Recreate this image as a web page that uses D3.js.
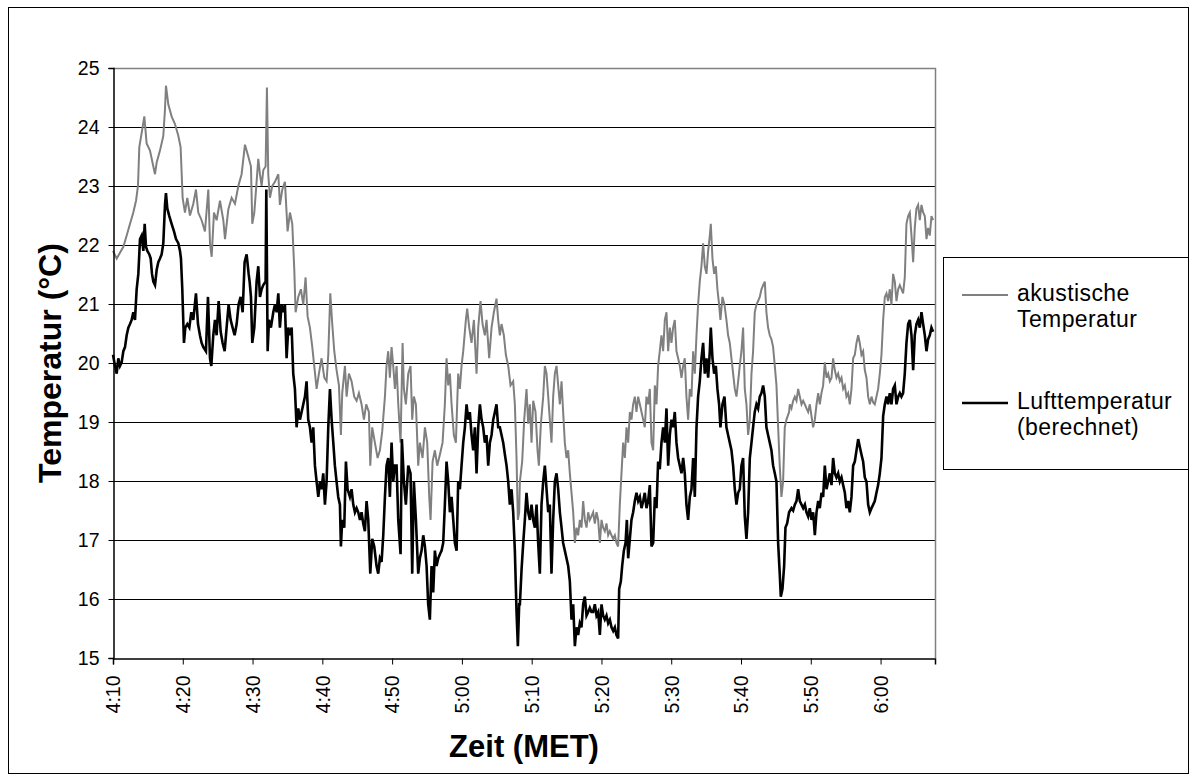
<!DOCTYPE html>
<html>
<head>
<meta charset="utf-8">
<script src="https://cdn.jsdelivr.net/npm/d3@7/dist/d3.min.js"></script>
<style>
  body { margin: 0; background: #fff; }
  svg { display: block; font-family: "Liberation Sans", Arial, sans-serif; }
</style>
</head>
<body>
<div id="chart"></div>
<script>
// minutes after 4:10 MET, temperature in °C
var akustisch = [
  [0.00,21.9],[0.53,21.77],[1.00,21.87],[1.48,21.97],[1.96,22.16],[2.44,22.36],[2.91,22.55],[3.30,22.75],[3.58,23.0],[3.77,23.66],
  [4.11,23.9],[4.49,24.18],[4.82,23.72],[5.30,23.6],[5.78,23.33],[6.02,23.2],[6.26,23.4],[6.73,23.6],[7.21,23.85],[7.45,24.3],
  [7.59,24.7],[7.93,24.38],[8.40,24.18],[8.88,24.05],[9.36,23.85],[9.69,23.66],[9.98,22.8],[10.31,22.55],[10.65,22.8],[11.03,22.5],
  [11.51,22.7],[11.89,22.94],[12.22,22.55],[12.70,22.42],[13.18,22.23],[13.66,22.94],[13.90,22.03],[14.14,21.8],[14.47,22.55],[14.85,22.42],
  [15.33,22.75],[15.81,22.42],[16.05,22.1],[16.52,22.6],[17.00,22.8],[17.48,22.7],[17.96,23.0],[18.43,23.2],[18.91,23.7],[19.39,23.5],
  [19.77,23.33],[19.96,22.36],[20.25,22.55],[20.58,23.07],[20.82,23.46],[21.06,23.2],[21.30,23.0],[21.54,23.27],[21.87,23.33],[22.06,24.67],
  [22.25,23.2],[22.49,22.8],[22.83,23.0],[23.21,23.07],[23.69,23.2],[23.92,22.68],[24.26,22.94],[24.64,23.07],[25.02,22.23],[25.36,22.55],
  [25.69,22.36],[25.98,21.58],[26.17,20.86],[26.55,21.12],[26.93,21.25],[27.27,20.99],[27.60,21.45],[27.89,20.79],[28.22,20.6],[28.56,20.27],
  [28.84,19.95],[29.18,19.56],[29.51,19.82],[29.89,20.08],[30.28,19.75],[30.61,19.69],[30.85,20.14],[31.14,21.18],[31.42,20.66],[31.71,20.2],
  [32.04,19.88],[32.38,19.62],[32.66,18.78],[32.85,19.49],[33.24,19.95],[33.48,19.43],[33.81,19.82],[34.19,19.69],[34.57,19.43],[34.91,19.36],
  [35.24,19.49],[35.62,19.3],[35.96,19.04],[36.29,19.3],[36.67,19.17],[36.87,18.26],[37.15,18.91],[37.53,18.65],[37.92,18.39],[38.25,18.52],
  [38.58,18.84],[38.97,19.43],[39.20,19.95],[39.44,20.2],[39.68,19.75],[39.92,20.27],[40.16,19.95],[40.40,19.56],[40.64,19.95],[40.88,19.3],
  [41.21,18.65],[41.50,20.34],[41.69,19.56],[41.97,19.3],[42.31,19.82],[42.64,19.95],[42.88,19.04],[43.12,19.43],[43.41,19.3],[43.74,18.26],
  [43.98,18.65],[44.36,18.39],[44.70,18.91],[45.03,18.65],[45.32,17.73],[45.51,17.34],[45.80,18.33],[46.13,18.52],[46.46,18.26],[46.85,18.45],
  [47.23,18.65],[47.56,19.3],[47.80,20.08],[48.04,19.62],[48.28,19.82],[48.52,19.3],[48.85,18.78],[49.14,18.65],[49.47,19.82],[49.71,19.56],
  [49.95,19.95],[50.19,20.2],[50.57,20.73],[50.76,20.92],[51.05,20.6],[51.38,20.34],[51.72,20.73],[52.10,19.82],[52.34,20.6],[52.67,21.05],
  [52.96,20.66],[53.29,20.47],[53.53,20.73],[53.91,20.08],[54.25,20.6],[54.58,20.86],[54.96,21.09],[55.20,20.73],[55.44,20.47],[55.68,20.66],
  [56.01,20.47],[56.30,20.14],[56.64,19.95],[56.97,19.62],[57.35,19.69],[57.59,19.3],[57.83,18.39],[58.02,17.34],[58.21,17.47],[58.31,17.99],
  [58.64,18.33],[58.93,19.04],[59.26,19.56],[59.50,18.97],[59.74,19.3],[59.98,18.65],[60.22,19.36],[60.55,19.17],[60.84,18.52],[61.03,18.26],
  [61.32,18.97],[61.65,19.43],[61.89,19.95],[62.13,19.82],[62.37,19.43],[62.60,19.04],[62.84,18.65],[63.08,19.43],[63.32,19.82],[63.56,19.95],
  [63.80,19.62],[64.04,19.3],[64.28,19.69],[64.51,19.17],[64.75,18.65],[64.99,18.39],[65.23,18.52],[65.47,18.13],[65.71,17.8],[65.95,17.47],
  [66.19,16.95],[66.42,17.21],[66.66,17.08],[66.90,17.34],[67.14,17.21],[67.38,17.66],[67.62,17.34],[67.86,17.21],[68.10,17.47],[68.33,17.34],
  [68.57,17.4],[68.81,17.47],[69.05,17.28],[69.29,17.47],[69.53,17.34],[69.77,16.95],[70.01,17.34],[70.24,17.21],[70.48,17.15],[70.72,17.28],
  [70.96,17.08],[71.20,17.15],[71.44,17.08],[71.68,17.02],[71.92,17.08],[72.15,16.95],[72.39,16.89],[72.63,17.6],[72.87,18.13],[73.11,18.65],
  [73.35,18.39],[73.59,18.91],[73.83,18.65],[74.07,19.17],[74.30,19.04],[74.54,19.3],[74.78,19.43],[75.02,19.17],[75.26,19.43],[75.50,19.3],
  [75.74,19.17],[75.98,19.04],[76.21,18.91],[76.45,19.43],[76.69,19.3],[76.93,19.56],[77.17,18.65],[77.41,18.52],[77.65,19.62],[77.89,19.3],
  [78.12,19.95],[78.36,20.2],[78.60,20.47],[78.84,20.2],[79.08,20.73],[79.32,20.86],[79.56,20.2],[79.80,20.6],[80.03,20.34],[80.27,20.6],
  [80.51,20.73],[80.75,20.2],[80.99,20.08],[81.23,19.95],[81.47,19.75],[81.71,19.95],[81.94,20.08],[82.18,19.43],[82.42,19.04],[82.66,19.56],
  [82.90,19.43],[83.14,20.2],[83.38,19.82],[83.62,20.47],[83.85,20.99],[84.09,21.38],[84.33,21.64],[84.57,22.03],[84.81,21.64],[85.05,21.51],
  [85.29,21.9],[85.53,22.16],[85.67,22.36],[85.91,21.77],[86.15,21.51],[86.39,21.64],[86.62,21.25],[86.86,20.99],[87.05,20.73],[87.34,21.12],
  [87.63,20.99],[87.91,20.73],[88.15,20.47],[88.39,20.34],[88.63,20.08],[88.87,19.82],[89.11,19.56],[89.35,19.43],[89.59,19.69],[89.82,19.95],
  [90.06,20.2],[90.30,20.6],[90.54,19.56],[90.78,19.3],[91.02,18.78],[91.26,19.04],[91.50,19.82],[91.73,20.2],[91.97,20.86],[92.21,20.99],
  [92.45,21.05],[92.69,21.12],[92.93,21.25],[93.17,21.32],[93.41,21.38],[93.64,20.86],[93.88,20.6],[94.12,20.47],[94.36,20.4],[94.60,20.27],
  [94.84,19.95],[95.08,19.62],[95.32,18.91],[95.55,18.26],[95.79,17.73],[96.03,17.99],[96.27,18.91],[96.51,19.04],[96.89,19.17],[96.99,19.3],
  [97.23,19.23],[97.47,19.36],[97.71,19.43],[97.95,19.36],[98.19,19.56],[98.43,19.43],[98.67,19.3],[98.91,19.36],[99.15,19.3],[99.38,19.23],
  [99.62,19.17],[99.86,19.3],[100.10,19.1],[100.34,18.91],[100.58,19.04],[100.82,19.3],[101.06,19.49],[101.29,19.3],[101.53,19.49],[101.77,19.62],
  [102.01,20.01],[102.25,19.75],[102.49,19.82],[102.73,19.69],[102.97,19.75],[103.20,20.08],[103.44,19.88],[103.68,19.75],[103.92,19.82],[104.16,19.69],
  [104.40,19.75],[104.64,19.56],[104.88,19.62],[105.11,19.43],[105.35,19.49],[105.59,19.3],[105.83,19.56],[106.07,20.08],[106.31,20.14],[106.55,20.34],
  [106.79,20.47],[107.02,20.34],[107.26,20.14],[107.50,20.2],[107.74,19.88],[107.98,19.75],[108.22,19.43],[108.46,19.3],[108.70,19.43],[108.94,19.33],
  [109.17,19.3],[109.41,19.43],[109.65,19.56],[109.89,19.82],[110.13,20.14],[110.37,20.73],[110.61,21.12],[110.85,21.18],[111.08,21.05],[111.32,21.25],
  [111.56,20.99],[111.80,21.51],[112.04,21.38],[112.28,21.05],[112.52,21.25],[112.76,21.32],[112.99,21.25],[113.23,21.18],[113.47,21.45],[113.71,22.36],
  [113.95,22.49],[114.19,22.55],[114.43,22.16],[114.67,21.71],[114.90,22.29],[115.14,22.62],[115.38,22.68],[115.62,22.42],[115.86,22.68],[116.10,22.55],
  [116.34,22.49],[116.58,22.1],[116.81,22.29],[117.05,22.16],[117.29,22.49],[117.53,22.42]
];

var luft = [
  [0.00,20.14],[0.29,19.95],[0.53,19.82],[0.76,20.08],[1.00,19.95],[1.24,20.01],[1.48,20.2],[1.72,20.27],[1.96,20.47],[2.20,20.6],
  [2.44,20.66],[2.67,20.73],[2.91,20.86],[3.15,20.73],[3.39,21.25],[3.63,21.51],[3.87,22.1],[4.11,22.16],[4.35,21.9],[4.54,22.36],
  [4.73,21.97],[4.92,21.9],[5.21,21.84],[5.40,21.77],[5.59,21.51],[5.78,21.38],[6.02,21.32],[6.26,21.58],[6.49,21.71],[6.73,21.77],
  [6.97,21.84],[7.21,22.03],[7.45,22.68],[7.59,22.88],[7.78,22.62],[8.07,22.49],[8.40,22.36],[8.74,22.23],[9.03,22.1],[9.36,22.03],
  [9.60,21.9],[9.74,21.77],[9.93,21.25],[10.17,20.34],[10.36,20.6],[10.65,20.66],[10.94,20.6],[11.22,20.86],[11.51,20.73],[11.89,21.18],
  [12.18,20.66],[12.46,20.47],[12.70,20.34],[12.94,20.27],[13.32,20.2],[13.61,21.12],[13.90,20.08],[14.09,19.95],[14.37,20.47],[14.61,20.73],
  [14.85,20.47],[15.14,21.05],[15.43,20.53],[15.71,20.34],[16.00,20.2],[16.28,20.6],[16.57,20.99],[16.86,20.73],[17.14,20.6],[17.43,20.47],
  [17.72,20.66],[18.00,20.99],[18.29,21.12],[18.58,20.86],[18.86,21.71],[19.15,21.84],[19.44,21.51],[19.58,21.38],[19.77,21.12],[19.96,20.34],
  [20.25,20.6],[20.58,21.38],[20.82,21.64],[21.06,21.12],[21.30,21.25],[21.54,21.32],[21.87,21.38],[21.97,22.94],[22.16,20.2],[22.35,20.73],
  [22.63,20.6],[22.97,20.86],[23.21,20.99],[23.45,20.86],[23.69,21.18],[23.92,20.6],[24.16,20.99],[24.40,20.86],[24.64,20.99],[24.88,20.08],
  [25.12,20.6],[25.36,20.47],[25.60,20.6],[25.83,19.82],[26.07,19.56],[26.31,18.91],[26.55,19.23],[26.79,19.04],[27.03,19.17],[27.27,19.3],
  [27.51,19.43],[27.74,19.69],[27.98,19.04],[28.22,18.91],[28.46,18.65],[28.70,18.91],[28.94,18.26],[29.18,17.99],[29.42,17.73],[29.66,17.99],
  [29.89,17.86],[30.13,18.13],[30.37,17.6],[30.61,17.99],[30.85,18.91],[31.09,19.56],[31.33,19.04],[31.57,18.65],[31.80,18.26],[32.04,17.99],
  [32.28,17.73],[32.52,17.6],[32.66,16.89],[32.85,17.34],[33.14,17.21],[33.38,18.33],[33.62,17.86],[33.95,17.73],[34.19,17.86],[34.43,17.6],
  [34.67,17.47],[34.91,17.54],[35.15,17.47],[35.39,17.34],[35.62,17.47],[35.86,17.28],[36.10,17.15],[36.34,17.66],[36.58,17.34],[36.87,16.43],
  [37.15,17.02],[37.44,16.89],[37.77,16.56],[38.01,16.43],[38.25,16.69],[38.49,16.63],[38.73,17.08],[38.97,17.73],[39.20,18.26],[39.44,18.39],
  [39.68,17.73],[39.92,18.65],[40.16,17.99],[40.40,18.26],[40.64,18.26],[40.88,17.34],[41.21,16.76],[41.40,18.71],[41.69,17.99],[41.97,17.6],
  [42.31,18.26],[42.64,18.13],[42.88,16.43],[43.12,17.99],[43.41,17.34],[43.74,16.43],[43.98,16.69],[44.22,16.82],[44.46,17.08],[44.70,16.89],
  [44.94,16.56],[45.17,15.91],[45.41,15.65],[45.65,16.56],[45.89,16.11],[46.13,16.82],[46.37,16.56],[46.61,16.69],[46.85,16.76],[47.09,16.82],
  [47.32,16.95],[47.56,17.6],[47.80,18.33],[48.04,17.99],[48.28,17.47],[48.52,17.73],[48.76,17.34],[49.00,16.95],[49.24,16.82],[49.47,17.99],
  [49.71,17.86],[49.95,18.26],[50.19,18.65],[50.43,18.91],[50.67,19.3],[50.91,19.04],[51.14,19.17],[51.38,18.78],[51.62,18.52],[51.86,18.91],
  [52.10,18.13],[52.34,18.91],[52.58,19.3],[52.82,19.04],[53.05,18.91],[53.29,18.65],[53.53,18.78],[53.77,18.26],[54.01,18.65],[54.25,18.78],
  [54.49,19.04],[54.73,19.17],[54.96,19.3],[55.20,18.91],[55.44,18.91],[55.68,18.78],[55.92,18.65],[56.16,18.45],[56.40,18.26],[56.64,17.99],
  [56.87,17.6],[57.11,17.86],[57.35,17.47],[57.59,16.82],[57.83,15.78],[58.02,15.2],[58.21,15.91],[58.31,15.91],[58.55,16.5],[58.79,16.95],
  [59.02,17.34],[59.26,17.8],[59.50,17.47],[59.74,17.34],[59.98,17.6],[60.22,17.34],[60.46,17.21],[60.70,17.6],[60.93,16.95],[61.17,16.43],
  [61.41,17.6],[61.65,17.99],[61.89,18.26],[62.13,17.86],[62.37,17.47],[62.60,17.6],[62.84,16.43],[63.08,17.34],[63.32,17.99],[63.56,18.13],
  [63.80,17.86],[64.04,17.47],[64.28,17.21],[64.51,16.95],[64.75,16.82],[64.99,16.69],[65.23,16.56],[65.47,16.3],[65.71,15.65],[65.95,15.91],
  [66.19,15.2],[66.42,15.52],[66.66,15.39],[66.90,15.59],[67.14,15.52],[67.38,15.91],[67.62,16.04],[67.86,15.72],[68.10,15.78],[68.33,15.85],
  [68.57,15.78],[68.81,15.78],[69.05,15.91],[69.29,15.72],[69.53,15.78],[69.77,15.39],[70.01,15.91],[70.24,15.72],[70.48,15.65],[70.72,15.72],
  [70.96,15.59],[71.20,15.65],[71.44,15.52],[71.68,15.46],[71.92,15.52],[72.15,15.39],[72.39,15.33],[72.54,16.17],[72.78,16.3],[72.97,16.56],
  [73.21,16.82],[73.45,16.95],[73.64,17.34],[73.83,16.69],[74.07,17.02],[74.30,17.34],[74.54,17.47],[74.78,17.66],[75.02,17.8],[75.26,17.66],
  [75.50,17.73],[75.74,17.54],[75.98,17.66],[76.21,17.8],[76.45,17.54],[76.69,17.66],[76.93,17.93],[77.17,16.89],[77.41,16.95],[77.65,17.73],
  [77.89,17.54],[78.12,18.33],[78.36,18.2],[78.60,18.65],[78.84,18.91],[79.08,18.65],[79.32,19.23],[79.56,18.26],[79.80,18.78],[80.03,19.04],
  [80.27,18.91],[80.51,19.17],[80.75,18.65],[80.99,18.39],[81.23,18.26],[81.47,18.13],[81.71,18.39],[81.94,18.13],[82.18,17.6],[82.42,17.34],
  [82.66,17.73],[82.90,17.86],[83.14,18.39],[83.38,17.73],[83.62,18.91],[83.85,19.43],[84.09,19.69],[84.33,20.08],[84.57,20.34],[84.81,19.82],
  [85.05,20.08],[85.29,19.75],[85.53,20.2],[85.67,20.6],[85.91,20.08],[86.15,19.82],[86.39,19.95],[86.62,19.56],[86.86,19.3],[87.05,18.91],
  [87.34,19.3],[87.63,19.43],[87.91,18.91],[88.15,18.78],[88.39,18.65],[88.63,18.52],[88.87,18.26],[89.11,17.86],[89.35,17.6],[89.59,17.8],
  [89.82,17.86],[90.06,18.26],[90.30,18.39],[90.54,17.4],[90.78,17.02],[91.02,17.47],[91.26,18.39],[91.50,18.65],[91.73,18.91],[91.97,19.17],
  [92.21,19.3],[92.45,19.23],[92.69,19.43],[92.93,19.49],[93.17,19.62],[93.41,19.43],[93.64,18.91],[93.88,18.78],[94.12,18.65],[94.36,18.52],
  [94.60,18.26],[94.84,18.13],[95.08,17.99],[95.32,16.95],[95.55,16.43],[95.70,16.04],[95.94,16.17],[96.18,16.56],[96.37,17.21],[96.61,17.28],
  [96.89,17.47],[97.23,17.54],[97.47,17.5],[97.71,17.6],[97.95,17.66],[98.19,17.86],[98.43,17.66],[98.67,17.6],[98.91,17.54],[99.15,17.6],
  [99.38,17.47],[99.62,17.4],[99.86,17.54],[100.10,17.34],[100.34,17.47],[100.58,17.08],[100.82,17.47],[101.06,17.66],[101.29,17.54],[101.53,17.8],
  [101.77,17.73],[102.01,18.26],[102.25,17.86],[102.49,17.99],[102.73,18.13],[102.97,17.93],[103.20,18.39],[103.44,18.13],[103.68,18.06],[103.92,18.13],
  [104.16,17.99],[104.40,18.06],[104.64,17.93],[104.88,17.8],[105.11,17.54],[105.35,17.66],[105.59,17.47],[105.83,17.73],[106.07,18.26],[106.31,18.33],
  [106.55,18.52],[106.79,18.71],[107.02,18.58],[107.26,18.45],[107.50,18.33],[107.74,18.06],[107.98,17.99],[108.22,17.6],[108.46,17.47],[108.70,17.54],
  [108.94,17.6],[109.17,17.66],[109.41,17.8],[109.65,17.93],[109.89,18.13],[110.13,18.39],[110.37,19.1],[110.61,19.3],[110.85,19.43],[111.08,19.3],
  [111.32,19.49],[111.56,19.3],[111.80,19.56],[112.04,19.62],[112.28,19.3],[112.52,19.43],[112.76,19.49],[112.99,19.43],[113.23,19.49],[113.47,19.82],
  [113.71,20.34],[113.95,20.66],[114.19,20.73],[114.43,20.47],[114.67,19.88],[114.90,20.47],[115.14,20.66],[115.38,20.73],[115.62,20.6],[115.86,20.86],
  [116.10,20.66],[116.34,20.47],[116.58,20.2],[116.81,20.4],[117.05,20.47],[117.29,20.6],[117.53,20.53]
];

var yTicks = [15, 16, 17, 18, 19, 20, 21, 22, 23, 24, 25];
var endMinute = 117.8;
var legendLines = [["akustische", "Temperatur"], ["Lufttemperatur", "(berechnet)"]];
var seriesColors = ["#808080", "#000000"];

var width = 1197, height = 783;
var plot = {left: 113, top: 68, right: 935, bottom: 658};

var start = new Date(2000, 0, 1, 4, 10);
function toTime(m) { return new Date(start.getTime() + m * 60000); }

var svg = d3.select("#chart").append("svg")
    .attr("width", width)
    .attr("height", height);

// outer chart frame
svg.append("rect")
    .attr("x", 8.5).attr("y", 7.5)
    .attr("width", 1180).attr("height", 766)
    .attr("fill", "none").attr("stroke", "#000").attr("stroke-width", 1);

var x = d3.scaleTime()
    .domain([start, toTime(endMinute)])
    .range([plot.left, plot.right]);

var y = d3.scaleLinear()
    .domain([15, 25])
    .range([plot.bottom, plot.top]);

// horizontal gridlines
svg.append("g")
    .selectAll("line")
    .data(yTicks.slice(1, -1))
    .enter()
    .append("line")
    .attr("x1", plot.left).attr("x2", plot.right)
    .attr("y1", d => Math.round(y(d)) + 0.5).attr("y2", d => Math.round(y(d)) + 0.5)
    .attr("stroke", "#000").attr("stroke-width", 1);

// top and right border of the plot area (gray)
svg.append("path")
    .attr("d", "M" + plot.left + "," + (plot.top + 0.5) + "H" + (plot.right + 0.5) + "V" + plot.bottom)
    .attr("fill", "none").attr("stroke", "#808080").attr("stroke-width", 1.5);

// lines
var line = d3.line()
    .x(d => x(toTime(d[0])))
    .y(d => y(d[1]));

[akustisch, luft].forEach(function(series, i) {
    svg.append("path")
        .datum(series)
        .attr("d", line)
        .attr("fill", "none")
        .attr("stroke", seriesColors[i])
        .attr("stroke-width", i === 0 ? 2 : 2.6)
        .attr("stroke-linejoin", "miter");
});

// y axis
var yAxis = d3.axisLeft(y)
    .tickValues(yTicks)
    .tickSize(5)
    .tickPadding(9)
    .tickFormat(d3.format("d"));

var gy = svg.append("g")
    .attr("transform", "translate(" + (plot.left + 0.5) + ",0)")
    .call(yAxis);
gy.select(".domain").attr("stroke", "#000").attr("stroke-width", 1.5);
gy.selectAll(".tick line").attr("stroke", "#000");
gy.selectAll(".tick text")
    .attr("font-size", "19.5px")
    .attr("font-family", "'Liberation Sans', Arial, sans-serif")
    .attr("fill", "#000");

// x axis
var xAxis = d3.axisBottom(x)
    .ticks(d3.timeMinute.every(10))
    .tickSize(6)
    .tickFormat(d3.timeFormat("%-H:%M"));

var gx = svg.append("g")
    .attr("transform", "translate(0," + (plot.bottom + 0.5) + ")")
    .call(xAxis);
gx.select(".domain").attr("stroke", "#000").attr("stroke-width", 1.5);
gx.selectAll(".tick line").attr("stroke", "#000");
gx.selectAll(".tick text")
    .attr("font-size", "19.5px")
    .attr("font-family", "'Liberation Sans', Arial, sans-serif")
    .attr("fill", "#000")
    .attr("text-anchor", "end")
    .attr("dy", "0.35em")
    .attr("y", 0)
    .attr("transform", "translate(0,17) rotate(-90)");

// axis titles
svg.append("text")
    .attr("transform", "translate(50," + ((plot.top + plot.bottom) / 2) + ") rotate(-90)")
    .attr("text-anchor", "middle")
    .attr("dy", "0.35em")
    .attr("font-size", "32px")
    .attr("font-weight", "bold")
    .text("Temperatur (°C)");

svg.append("text")
    .attr("x", (plot.left + plot.right) / 2)
    .attr("y", 757)
    .attr("text-anchor", "middle")
    .attr("font-size", "31px")
    .attr("font-weight", "bold")
    .text("Zeit (MET)");

// legend
var legend = svg.append("g");
legend.append("rect")
    .attr("x", 943.5).attr("y", 257.5)
    .attr("width", 245).attr("height", 212)
    .attr("fill", "#fff").attr("stroke", "#000").attr("stroke-width", 1);

var legendY = [295, 403];
legendLines.forEach(function(lines, i) {
    legend.append("line")
        .attr("x1", 962).attr("x2", 1008)
        .attr("y1", legendY[i]).attr("y2", legendY[i])
        .attr("stroke", seriesColors[i])
        .attr("stroke-width", i === 0 ? 2 : 2.6);
    var t = legend.append("text")
        .attr("x", 1017)
        .attr("y", legendY[i] + 6)
        .attr("font-size", "23px")
        .attr("letter-spacing", "0.4px");
    lines.forEach(function(s, j) {
        t.append("tspan")
            .attr("x", 1017)
            .attr("dy", j === 0 ? 0 : 26)
            .text(s);
    });
});
</script>
</body>
</html>
